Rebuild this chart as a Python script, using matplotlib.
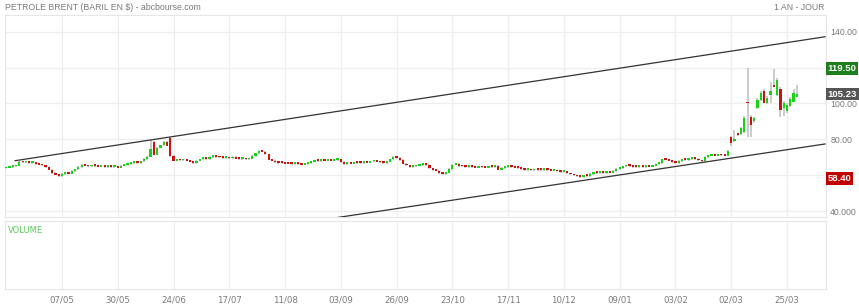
import numpy as np
import matplotlib
matplotlib.use("Agg")
import matplotlib.pyplot as plt

plt.rcParams["font.family"] = ["Liberation Sans", "DejaVu Sans"]

# daily closes (index = trading day)
closes = [
    64.3, 64.8, 65.0, 65.5, 67.5, 67.2, 67.6, 66.9, 67.0, 66.4, 66.0, 65.6, 64.5, 63.2, 61.3, 60.4, 59.6, 60.8,
    61.2, 61.0, 62.5, 63.4, 64.6, 65.8, 65.5, 65.0, 65.6, 65.3, 64.9, 65.2, 64.8, 65.1, 64.7, 65.0, 64.4,
    65.4, 65.9, 66.3, 66.8, 67.2, 67.0, 67.8, 69.2, 70.5, 74.5, 71.5, 75.5, 76.7, 78.6, 76.5, 70.8,
    68.3, 68.6, 68.4, 68.9, 68.2, 67.6, 67.0, 68.2, 69.0, 69.3, 69.0, 70.2, 70.6, 70.2, 70.0, 69.6, 69.8, 69.5,
    70.4, 69.4, 69.0, 69.2, 68.9, 69.3, 70.7, 72.3, 73.6, 73.3, 71.7, 68.8, 68.3, 67.3, 67.0, 66.9, 66.6,
    66.5, 66.2, 66.6, 66.3, 66.0, 66.4, 66.8, 67.6, 68.2, 68.0, 68.5, 68.2, 68.6, 68.3, 68.7, 69.0, 67.5,
    66.4, 66.8, 66.6, 67.2, 67.0, 66.8, 67.3, 67.1, 67.8, 68.2, 67.6, 67.2, 66.9, 67.6, 69.0, 70.5, 69.8,
    68.5, 66.5, 65.6, 64.6, 65.0, 65.4, 65.8, 66.2, 65.7, 64.0, 62.8, 62.6, 61.4, 60.8, 61.6, 63.5, 66.0, 66.3,
    65.2, 65.0, 64.6, 65.1, 64.8, 64.3, 64.9, 64.5, 64.4, 64.9, 64.6, 64.8, 63.2, 64.2, 64.8, 65.0, 64.6, 64.3, 64.0,
    63.5, 63.0, 63.2, 62.8, 63.3, 63.0, 62.9, 63.4, 63.1, 62.6, 62.9, 62.2, 61.8, 62.0,
    61.2, 60.6, 60.0, 59.5, 59.2, 60.0, 59.8, 60.9, 61.5, 61.3, 61.8, 61.4, 61.9, 61.6, 62.5, 63.5, 64.0,
    65.0, 65.6, 65.2, 64.8, 64.6, 65.0, 64.7, 65.1, 64.9, 65.4, 66.2, 66.8, 69.0, 68.8, 68.2, 67.4, 66.8,
    68.0, 68.9, 68.6, 69.0, 69.6, 69.2, 68.4, 67.8, 70.2, 71.0, 71.4, 71.0, 71.5, 71.2, 71.0, 73.5,
    78.0, 80.5, 82.5, 86.4, 92.0, 100.0, 88.0, 92.0, 102.0, 105.7, 100.4, 102.9, 107.0, 109.3, 113.0,
    96.4, 100.4, 99.0, 102.3, 105.7, 105.23,
]
# opens that differ from the previous close (gaps)
gap_opens = {45: 78.5, 50: 80.8, 150: 65.3, 221: 81.5, 222: 79.0, 223: 83.0, 224: 82.8,
             225: 84.3, 226: 100.5, 227: 92.7, 228: 90.0, 229: 97.3, 230: 102.0, 231: 107.1,
             232: 100.0, 233: 104.5, 234: 110.3, 235: 104.7, 236: 108.0, 237: 97.3,
             238: 96.0, 239: 98.6, 240: 101.0, 241: 103.8}
wick_highs = {44: 79.5, 50: 81.2, 222: 85.0, 225: 93.0, 226: 119.5, 227: 93.5, 229: 103.0,
              230: 107.0, 231: 108.0, 232: 104.0, 233: 112.0, 234: 119.0, 235: 114.0,
              236: 109.0, 237: 101.5, 238: 100.0, 239: 103.5, 240: 108.0, 241: 110.3}
wick_lows = {16: 59.0, 175: 58.4, 221: 76.5, 225: 83.5, 226: 81.5, 227: 81.5, 228: 89.0,
             233: 100.5, 236: 92.7, 237: 93.0, 238: 94.5}

tick_pos = [17, 34, 51, 68, 85, 102, 119, 136, 153, 170, 187, 204, 221, 238]
tick_labels = ["07/05", "30/05", "24/06", "17/07", "11/08", "03/09", "26/09",
               "23/10", "17/11", "10/12", "09/01", "03/02", "02/03", "25/03"]

# user trendlines (index, price)
upper_trend = ([2.7, 249.6], [68.2, 137.1])
lower_trend = ([100.2, 249.6], [36.4, 77.5])

n = len(closes)
idx = np.arange(n)
opens = [gap_opens.get(i, closes[i - 1] if i > 0 else closes[0] - 0.4) for i in range(n)]
highs = [wick_highs.get(i, max(opens[i], closes[i]) + 0.4) for i in range(n)]
lows = [wick_lows.get(i, min(opens[i], closes[i]) - 0.4) for i in range(n)]

GREEN = "#14d414"
RED = "#cc1010"
WICK = "#bdbdbd"
GRID = "#eeeeee"
TXT = "#7a7a7a"

fig = plt.figure(figsize=(8.59, 3.05), dpi=100)
W, H = 859, 305
ax = fig.add_axes([5 / W, (H - 217) / H, 821 / W, 202 / H])
axv = fig.add_axes([5 / W, (H - 289) / H, 821 / W, 68 / H])

colors = []
for o, c in zip(opens, closes):
    colors.append(GREEN if c > o else (RED if c < o else "#aaaaaa"))

ax.vlines(idx, lows, highs, color=WICK, lw=1.1, zorder=2)
bottoms = [min(o, c) for o, c in zip(opens, closes)]
heights = [max(abs(c - o), 1.0) for o, c in zip(opens, closes)]
ax.bar(idx, heights, bottom=bottoms, width=0.68, color=colors, lw=0, zorder=3)

ax.plot(*upper_trend, color="#333333", lw=0.9, zorder=4)
ax.plot(*lower_trend, color="#333333", lw=0.9, zorder=4)

xlim = (-0.37, 249.9)
ax.set_xlim(*xlim)
ax.set_ylim(36.9, 149.2)
yt = [40, 60, 80, 100, 120, 140]
ax.set_yticks(yt)
ax.set_yticklabels(["40.000", "60.00", "80.00", "100.00", "120.00", "140.00"])
ax.yaxis.tick_right()
ax.tick_params(axis="y", length=0, pad=3, labelsize=6.3, labelcolor=TXT)
ax.set_xticks(tick_pos)
ax.tick_params(axis="x", length=0, labelbottom=False)
ax.grid(True, color=GRID, lw=0.9, zorder=0)
ax.set_axisbelow(True)

axv.set_xlim(*xlim)
axv.set_ylim(0, 1)
axv.set_yticks([])
axv.set_xticks(tick_pos)
axv.set_xticklabels(tick_labels, family=["Liberation Sans Narrow", "DejaVu Sans"])
axv.tick_params(axis="x", length=0, pad=5, labelsize=6.2, labelcolor=TXT)
axv.grid(True, axis="x", color=GRID, lw=0.9)
axv.text(0.003, 0.93, "VOLUME", transform=axv.transAxes, color="#5cc85c", fontsize=6,
         family=["Liberation Sans Narrow", "DejaVu Sans"], va="top", ha="left")

for a in (ax, axv):
    for s in a.spines.values():
        s.set_color("#e6e6e6")
        s.set_linewidth(0.8)

# highlighted price labels on the right
tr = ax.get_yaxis_transform()
marks = [(max(highs), "#1c7f1c"), (closes[-1], "#555555"), (min(lows), "#c00000")]
for val, col in marks:
    ax.text(1.002, val, f"{val:.2f}", transform=tr, fontsize=6.8, color="white",
            fontweight="bold", va="center", ha="left",
            bbox=dict(boxstyle="square,pad=0.2", fc=col, ec="none"), clip_on=False)

fig.text(5 / W, 1 - 7 / H, "PETROLE BRENT (BARIL EN $) - abcbourse.com", fontsize=6.3,
         color=TXT, va="center", ha="left")
fig.text(825 / W, 1 - 7 / H, "1 AN - JOUR", fontsize=6.3, color=TXT,
         va="center", ha="right")

fig.savefig("out.png", dpi=100, facecolor="white")
